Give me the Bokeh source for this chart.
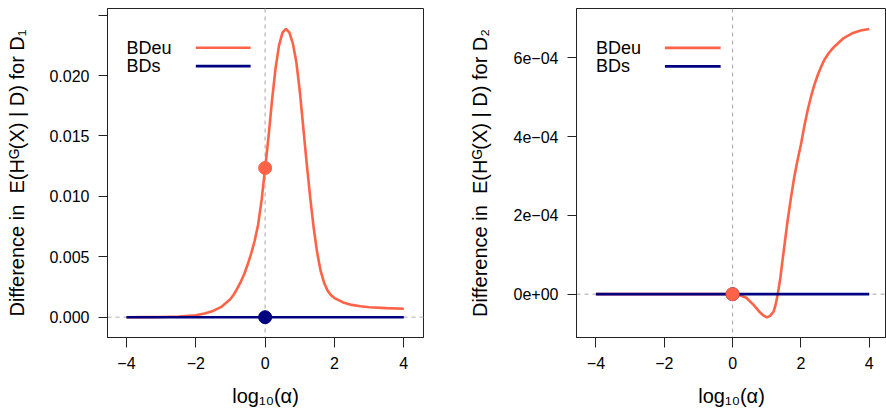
from bokeh.plotting import figure
from bokeh.models import Range1d, FixedTicker, Span, Label
from bokeh.layouts import row
from bokeh.embed import file_html
from bokeh.resources import INLINE

# ---------------- data ----------------
# Panel 1 (D1)
x_d1 = [-4, -3.5, -3, -2.5, -2, -1.75, -1.5, -1.25, -1, -0.9, -0.8, -0.7, -0.6,
        -0.5, -0.4, -0.3, -0.2, -0.1, 0, 0.1, 0.2, 0.3, 0.4, 0.5, 0.6, 0.7, 0.8,
        0.9, 1.0, 1.1, 1.2, 1.3, 1.4, 1.5, 1.6, 1.7, 1.8, 1.9, 2.0, 2.25, 2.5,
        2.75, 3.0, 3.5, 4.0]
bdeu_d1 = [0.00000, 0.00001, 0.00002, 0.00006, 0.00016, 0.00030, 0.00052,
           0.00088, 0.00150, 0.00190, 0.00240, 0.00295, 0.00360, 0.00440,
           0.00530, 0.00635, 0.00770, 0.00975, 0.01235, 0.01500, 0.01800,
           0.02060, 0.02250, 0.02355, 0.02387, 0.02355, 0.02265, 0.02110,
           0.01870, 0.01570, 0.01270, 0.00990, 0.00740, 0.00535, 0.00385,
           0.00285, 0.00220, 0.00182, 0.00158, 0.00122, 0.00102, 0.00090,
           0.00083, 0.00075, 0.00070]
bds_d1 = [0.0] * len(x_d1)

# Panel 2 (D2)
x_d2 = [-4, -3, -2, -1, -0.5, 0, 0.2, 0.4, 0.6, 0.8, 0.9, 1.0, 1.1, 1.2, 1.25,
        1.3, 1.35, 1.4, 1.45, 1.5, 1.6, 1.7, 1.8, 1.9, 2.0, 2.1, 2.2, 2.3, 2.4,
        2.5, 2.6, 2.7, 2.8, 2.9, 3.0, 3.25, 3.5, 3.75, 4.0]
bdeu_d2 = [0.0, 0.0, 0.0, 0.0, 0.0, 0.0, -0.2e-5, -0.9e-5, -2.6e-5, -4.6e-5,
           -5.4e-5, -5.9e-5, -5.5e-5, -4.4e-5, -3.0e-5, -1.0e-5, 1.5e-5,
           4.3e-5, 7.8e-5, 1.12e-4, 1.8e-4, 2.4e-4, 2.95e-4, 3.4e-4, 3.8e-4,
           4.27e-4, 4.68e-4, 5.03e-4, 5.33e-4, 5.58e-4, 5.79e-4, 5.97e-4,
           6.1e-4, 6.21e-4, 6.3e-4, 6.5e-4, 6.62e-4, 6.69e-4, 6.73e-4]
bds_d2 = [0.0] * len(x_d2)

x_ticks = [-4, -2, 0, 2, 4]
x_tick_labels = ["\u22124", "\u22122", "0", "2", "4"]
y_ticks_d1 = [0.0, 0.005, 0.010, 0.015, 0.020, 0.025]
y_tick_labels_d1 = ["0.000", "0.005", "0.010", "0.015", "0.020", ""]
y_ticks_d2 = [0.0, 2e-4, 4e-4, 6e-4]
y_tick_labels_d2 = ["0e+00", "2e\u221204", "4e\u221204", "6e\u221204"]

series_names = ["BDeu", "BDs"]
series_colors = ["#FF6347", "#000080"]
x_title = "log\u2081\u2080(\u03b1)"
y_title_d1 = "Difference in\u00a0 E(H\u1d33(X) | D) for D\u2081"
y_title_d2 = "Difference in\u00a0 E(H\u1d33(X) | D) for D\u2082"

FONT = "Liberation Sans"


def panel(x, bdeu, bds, xr, yr, yticks, ylabels, ytitle, width, mbl, mbr,
          ystandoff, leg_x_text, leg_x0, leg_x1, leg_y, dash_color,
          dash_width, dot_bds):
    p = figure(width=width, height=410, output_backend="svg",
               toolbar_location=None, x_range=Range1d(*xr),
               y_range=Range1d(*yr), min_border_left=mbl,
               min_border_right=mbr, min_border_top=8, min_border_bottom=73)
    p.grid.visible = False
    p.outline_line_color = "#222222"
    p.outline_line_width = 1
    p.background_fill_color = "white"
    p.border_fill_color = "white"

    for ax in (p.xaxis[0], p.yaxis[0]):
        ax.axis_line_color = "#222222"
        ax.major_tick_line_color = "#222222"
        ax.minor_tick_line_color = None
        ax.major_tick_in = 0
        ax.major_label_text_font = FONT
        ax.major_label_text_font_size = "16px"
        ax.major_label_text_color = "black"
        ax.axis_label_text_font = FONT
        ax.axis_label_text_font_size = "20px"
        ax.axis_label_text_font_style = "normal"
        ax.axis_label_text_color = "black"

    xa = p.xaxis[0]
    xa.ticker = FixedTicker(ticks=x_ticks)
    xa.major_label_overrides = {t: l for t, l in zip(x_ticks, x_tick_labels)}
    xa.major_tick_out = 10
    xa.major_label_standoff = 9
    xa.axis_label = x_title
    xa.axis_label_standoff = 13

    ya = p.yaxis[0]
    ya.ticker = FixedTicker(ticks=yticks)
    ya.major_label_overrides = {t: l for t, l in zip(yticks, ylabels)}
    ya.major_tick_out = 9
    ya.major_label_standoff = 9
    ya.major_label_orientation = "horizontal"
    ya.axis_label = ytitle
    ya.axis_label_standoff = ystandoff

    p.add_layout(Span(location=0, dimension="height", line_color=dash_color,
                      line_dash="4 4", line_width=dash_width, level="underlay"))
    p.add_layout(Span(location=0, dimension="width", line_color=dash_color,
                      line_dash="4 4", line_width=dash_width, level="underlay"))

    p.line(x, bdeu, line_color=series_colors[0], line_width=2.6)
    p.line(x, bds, line_color=series_colors[1], line_width=2.6)

    i0 = x.index(0)
    if dot_bds == "below":
        p.scatter([x[i0]], [bds[i0]], size=13, color=series_colors[1])
        p.scatter([x[i0]], [bdeu[i0]], size=13, color=series_colors[0])
    else:
        p.scatter([x[i0]], [bdeu[i0]], size=13, color=series_colors[0])
        p.scatter([x[i0]], [bds[i0]], size=13, color=series_colors[1])

    for name, col, ly in zip(series_names, series_colors, leg_y):
        p.add_layout(Label(x=leg_x_text, y=ly, text=name, text_font=FONT,
                           text_font_size="18px", text_color="black",
                           text_baseline="middle", text_align="left"))
        p.segment(x0=leg_x0, y0=ly, x1=leg_x1, y1=ly, line_color=col,
                  line_width=2.6)
    return p


p1 = panel(x_d1, bdeu_d1, bds_d1, (-4.548, 4.568), (-0.00168, 0.02555),
           y_ticks_d1, y_tick_labels_d1, y_title_d1,
           443, 107, 20, 18, -4.0, -2.0, -0.42, [0.02230, 0.02078],
           "#c8c8c8", 1.6, "above")
p2 = panel(x_d2, bdeu_d2, bds_d2, (-4.568, 4.504), (-1.10e-4, 7.25e-4),
           y_ticks_d2, y_tick_labels_d2, y_title_d2,
           443, 133, 0, 20, -4.0, -1.98, -0.35, [6.25e-4, 5.78e-4],
           "#a8a8a8", 1.0, "below")

layout = row(p1, p2)
open("out.html", "w").write(file_html(layout, INLINE))
